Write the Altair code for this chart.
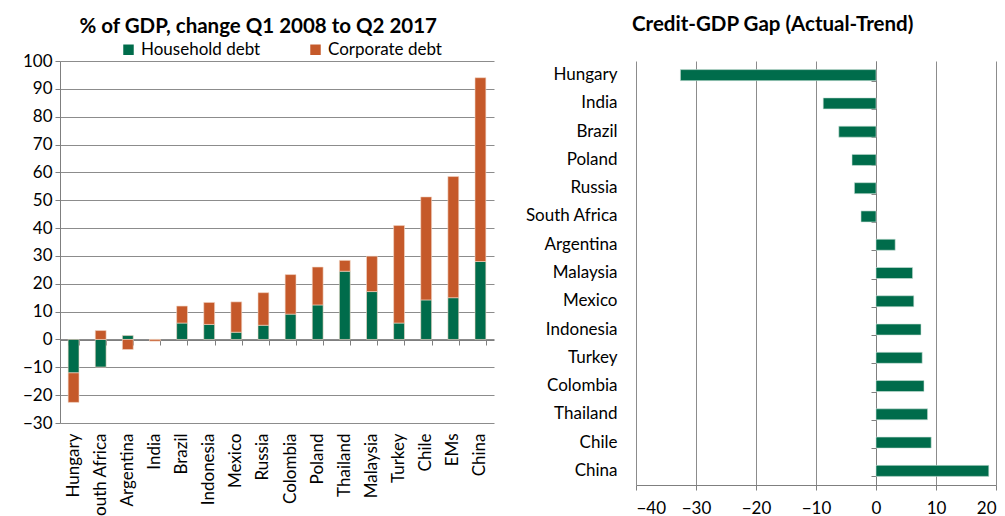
import altair as alt
import pandas as pd

FONT = "Lato"
GREEN = "#006C4B"
ORANGE = "#C5592A"
GRID = "#8c8c8c"
AXIS = "#7f7f7f"
LBL = 17

# Left chart data
countries_left = ["Hungary", "South Africa", "Argentina", "India", "Brazil", "Indonesia",
                  "Mexico", "Russia", "Colombia", "Poland", "Thailand", "Malaysia",
                  "Turkey", "Chile", "EMs", "China"]
household = [-12.0, -9.9, 1.4, 0.0, 5.9, 5.4, 2.6, 5.1, 9.1, 12.4, 24.5, 17.2, 5.9, 14.2, 15.0, 28.0]
corporate = [-10.6, 3.2, -3.6, -0.6, 6.1, 7.9, 10.9, 11.7, 14.2, 13.6, 3.9, 12.7, 35.0, 37.0, 43.5, 66.0]
series = ["Household debt", "Corporate debt"]
left_ticks = list(range(-30, 101, 10))

# Right chart data
countries_right = ["Hungary", "India", "Brazil", "Poland", "Russia", "South Africa", "Argentina",
                   "Malaysia", "Mexico", "Indonesia", "Turkey", "Colombia", "Thailand", "Chile", "China"]
gap = [-32.6, -8.8, -6.2, -4.0, -3.6, -2.5, 3.2, 6.1, 6.3, 7.5, 7.7, 8.0, 8.6, 9.2, 18.8]
right_ticks = list(range(-40, 21, 10))

rows = []
for c, h, k in zip(countries_left, household, corporate):
    rows.append({"country": c, "series": series[0], "value": h, "order": 0})
    rows.append({"country": c, "series": series[1], "value": k, "order": 1})
df_left = pd.DataFrame(rows)
df_right = pd.DataFrame({"country": countries_right, "gap": gap})

lbase = alt.Chart(df_left)
lbars = lbase.mark_bar(stroke="#f3d9c8", strokeWidth=0.6).encode(
    x=alt.X("country:N", sort=countries_left,
            scale=alt.Scale(paddingInner=0.6, paddingOuter=0.3),
            axis=alt.Axis(title=None, labelAngle=-90, labelAlign="right", labelBaseline="middle",
                          domain=False, ticks=False, labelPadding=10, labelFontSize=LBL,
                          labelColor="#000", labelFont=FONT)),
    y=alt.Y("value:Q", stack="zero",
            scale=alt.Scale(domain=[-30, 100], nice=False),
            axis=alt.Axis(title=None, values=left_ticks, grid=True, gridColor=GRID,
                          domainColor=AXIS, tickColor=AXIS, tickSize=5, labelPadding=3,
                          labelFontSize=LBL, labelColor="#000", labelFont=FONT)),
    color=alt.Color("series:N", scale=alt.Scale(domain=series, range=[GREEN, ORANGE]),
                    legend=alt.Legend(title=None, orient="none", legendX=60, legendY=-20,
                                      direction="horizontal", symbolType="square",
                                      symbolSize=110, symbolStrokeWidth=0, labelFontSize=LBL,
                                      labelFont=FONT, labelColor="#000", columnPadding=46,
                                      labelOffset=4)),
    order=alt.Order("order:Q"),
)
lzero = lbase.mark_tick(opacity=0).encode(
    x=alt.X("country:N", sort=countries_left,
            axis=alt.Axis(orient="bottom", offset=-83, labels=False, title=None,
                          domainColor=AXIS, tickColor=AXIS, tickBand="extent", tickSize=5,
                          grid=False)),
)
left = alt.layer(lbars, lzero).resolve_axis(x="independent").properties(
    width=434, height=362,
    title=alt.TitleParams("% of GDP, change Q1 2008 to Q2 2017", font=FONT, fontSize=20.5,
                          fontWeight="bold", anchor="middle", frame="bounds", color="#000",
                          offset=15),
)

rbase = alt.Chart(df_right)
rbars = rbase.mark_bar(color=GREEN, stroke="#cfe3da", strokeWidth=0.6).encode(
    y=alt.Y("country:N", sort=countries_right,
            scale=alt.Scale(paddingInner=0.61, paddingOuter=0.305),
            axis=alt.Axis(title=None, domain=False, ticks=False, labelPadding=19,
                          labelFontSize=LBL, labelColor="#000", labelFont=FONT)),
    x=alt.X("gap:Q", scale=alt.Scale(domain=[-40, 20], nice=False),
            axis=alt.Axis(title=None, values=right_ticks, grid=True, gridColor=GRID,
                          domainColor=AXIS, tickColor=AXIS, tickSize=5, labelPadding=10,
                          labelFontSize=LBL, labelColor="#000", labelFont=FONT)),
)
rzero = rbase.mark_tick(opacity=0).encode(
    y=alt.Y("country:N", sort=countries_right,
            axis=alt.Axis(orient="left", offset=-240, labels=False, title=None,
                          domainColor=AXIS, tickColor=AXIS, tickBand="extent", tickSize=5,
                          grid=False)),
)
right = alt.layer(rbars, rzero).resolve_axis(y="independent").properties(
    width=360, height=424,
    title=alt.TitleParams("Credit-GDP Gap (Actual-Trend)", font=FONT, fontSize=20.5,
                          fontWeight="bold", anchor="middle", frame="bounds", color="#000",
                          offset=26, dx=12),
)

chart = alt.hconcat(left, right, spacing=30).properties(
    padding={"left": 14, "top": 6, "right": 0, "bottom": 0}
).configure_view(stroke=None)

chart.save("out.html", embed_options={"renderer": "svg", "actions": False})
